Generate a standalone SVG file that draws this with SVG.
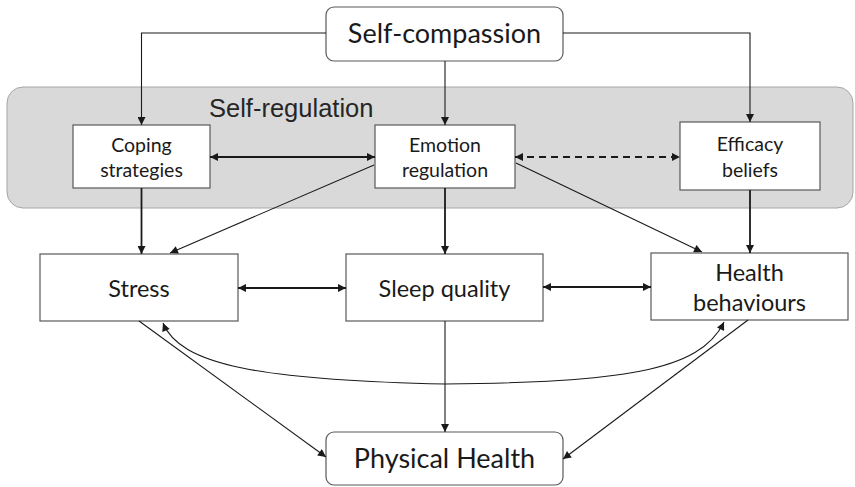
<svg xmlns="http://www.w3.org/2000/svg" width="855" height="487" viewBox="0 0 855 487">
  <defs>
    <marker id="ah" viewBox="0 0 10 10" refX="10" refY="5" markerWidth="9" markerHeight="8" markerUnits="userSpaceOnUse" orient="auto-start-reverse">
      <path d="M0,0 L10,5 L0,10 Z" fill="#1a1a1a"/>
    </marker>
  </defs>
  <style>
    .box { fill: #ffffff; stroke: #595959; stroke-width: 1.2; }
    .lbl { font-family: Lato, "Open Sans", sans-serif; fill: #1a1a1a; text-anchor: middle; }
    .sm { font-size: 19.5px; }
    .md { font-size: 23.5px; }
    .lg { font-size: 27px; }
    .c { fill: none; stroke: #1a1a1a; stroke-width: 1.1; }
    .thick { stroke-width: 1.8; }
    .dash { stroke-dasharray: 7 5; }
  </style>

  <!-- shaded self-regulation region -->
  <g id="self-regulation">
    <rect x="7" y="87" width="846" height="121" rx="16" fill="#d9d9d9" stroke="#a6a6a6" stroke-width="1"/>
    <text x="209" y="117" font-family="'Liberation Sans', Arial, sans-serif" font-size="25.5" fill="#262626">Self-regulation</text>
  </g>

  <g id="self-compassion">
    <rect class="box" x="326" y="7" width="237" height="54" rx="8"/>
    <text class="lbl lg" x="444.5" y="43">Self-compassion</text>
  </g>

  <g id="coping">
    <rect class="box" x="73" y="125" width="137" height="63"/>
    <text class="lbl sm" x="141.5" y="152">Coping</text>
    <text class="lbl sm" x="141.5" y="177">strategies</text>
  </g>

  <g id="emotion">
    <rect class="box" x="375" y="125" width="140" height="63"/>
    <text class="lbl sm" x="445" y="152">Emotion</text>
    <text class="lbl sm" x="445" y="177">regulation</text>
  </g>

  <g id="efficacy">
    <rect class="box" x="680" y="122" width="140" height="68"/>
    <text class="lbl sm" x="750" y="151">Efficacy</text>
    <text class="lbl sm" x="750" y="177">beliefs</text>
  </g>

  <g id="stress">
    <rect class="box" x="40" y="254" width="198" height="67"/>
    <text class="lbl md" x="139" y="297">Stress</text>
  </g>

  <g id="sleep">
    <rect class="box" x="346" y="254" width="197" height="67"/>
    <text class="lbl md" x="444.5" y="297">Sleep quality</text>
  </g>

  <g id="health-behaviours">
    <rect class="box" x="651" y="253" width="197" height="67"/>
    <text class="lbl md" x="749.5" y="281">Health</text>
    <text class="lbl md" x="749.5" y="311">behaviours</text>
  </g>

  <g id="physical-health">
    <rect class="box" x="326" y="432" width="237" height="53" rx="8"/>
    <text class="lbl lg" x="444.5" y="468">Physical Health</text>
  </g>

  <g id="connectors">
    <!-- from self-compassion -->
    <polyline class="c" points="326,33 141.5,33 141.5,125" marker-end="url(#ah)"/>
    <line class="c" x1="445" y1="61" x2="445" y2="125" marker-end="url(#ah)"/>
    <polyline class="c" points="563,33 750,33 750,122" marker-end="url(#ah)"/>

    <!-- within self-regulation -->
    <line class="c thick" x1="210" y1="157" x2="375" y2="157" marker-start="url(#ah)" marker-end="url(#ah)"/>
    <line class="c thick dash" x1="515" y1="157" x2="680" y2="157" marker-start="url(#ah)" marker-end="url(#ah)"/>

    <!-- to the middle row -->
    <line class="c thick" x1="141.5" y1="188" x2="141.5" y2="254" marker-end="url(#ah)"/>
    <line class="c thick" x1="445" y1="188" x2="445" y2="254" marker-end="url(#ah)"/>
    <line class="c thick" x1="750" y1="190" x2="750" y2="253" marker-end="url(#ah)"/>
    <line class="c" x1="374" y1="165" x2="170" y2="253" marker-end="url(#ah)"/>
    <line class="c" x1="516" y1="163" x2="702" y2="252" marker-end="url(#ah)"/>

    <!-- middle row links -->
    <line class="c thick" x1="238" y1="288" x2="346" y2="288" marker-start="url(#ah)" marker-end="url(#ah)"/>
    <line class="c thick" x1="543" y1="287" x2="651" y2="287" marker-start="url(#ah)" marker-end="url(#ah)"/>
    <path class="c" d="M163,323 C180,365 260,380 445,384 C620,382 700,372 724,322" marker-start="url(#ah)" marker-end="url(#ah)"/>

    <!-- to physical health -->
    <line class="c" x1="445" y1="321" x2="445" y2="432" stroke-width="1.5" marker-end="url(#ah)"/>
    <line class="c" x1="139" y1="321" x2="326" y2="457" marker-end="url(#ah)"/>
    <line class="c" x1="748" y1="320" x2="563" y2="459" marker-end="url(#ah)"/>
  </g>
</svg>
